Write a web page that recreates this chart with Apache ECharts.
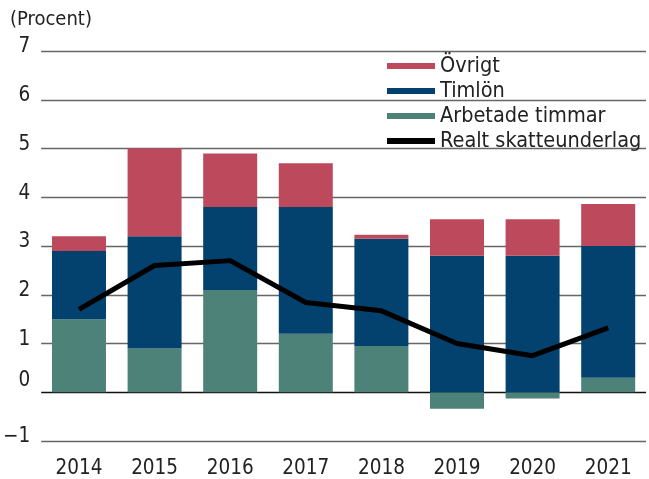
<!DOCTYPE html>
<html>
<head>
<meta charset="utf-8">
<script src="https://cdn.jsdelivr.net/npm/echarts@6/dist/echarts.min.js"></script>
<style>
  html, body { margin: 0; padding: 0; background: #fff; }
  #chart { width: 649px; height: 479px; }
</style>
</head>
<body>
<div id="chart"></div>
<script>
const years = ["2014", "2015", "2016", "2017", "2018", "2019", "2020", "2021"];
const arbetadeTimmar = [1.5, 0.9, 2.1, 1.2, 0.95, -0.34, -0.13, 0.3];
const timlon = [1.4, 2.3, 1.7, 2.6, 2.2, 2.8, 2.8, 2.7];
const ovrigt = [0.3, 1.8, 1.1, 0.9, 0.08, 0.75, 0.75, 0.86];
const realtSkatteunderlag = [1.7, 2.6, 2.7, 1.84, 1.67, 1.0, 0.75, 1.32];

const fontFam = "'DejaVu Sans Condensed', 'DejaVu Sans', sans-serif";

document.addEventListener("DOMContentLoaded", function () {
  const chart = echarts.init(document.getElementById("chart"));
  const option = {
    animation: false,
    textStyle: { fontFamily: fontFam },
    title: {
      text: "(Procent)",
      left: 5,
      top: 5,
      textStyle: { fontFamily: fontFam, fontSize: 20, fontWeight: "normal", color: "#222" }
    },
    legend: {
      orient: "vertical",
      left: 382,
      top: 50,
      itemWidth: 48,
      itemHeight: 6,
      itemGap: 3,
      icon: "rect",
      textStyle: { fontFamily: fontFam, fontSize: 21.5, color: "#222", lineHeight: 21 },
      data: [
        { name: "Övrigt", icon: "rect" },
        { name: "Timlön", icon: "rect" },
        { name: "Arbetade timmar", icon: "rect" },
        { name: "Realt skatteunderlag", icon: "rect", itemStyle: { color: "#000" } }
      ]
    },
    grid: { left: 40, right: 3, top: 51, bottom: 38 },
    xAxis: {
      type: "category",
      data: years,
      axisLine: { show: false },
      axisTick: { show: false },
      axisLabel: { fontFamily: fontFam, fontSize: 20.5, color: "#222", margin: 17 }
    },
    yAxis: {
      type: "value",
      min: -1,
      max: 7,
      interval: 1,
      axisLine: { show: false },
      axisTick: { show: false },
      axisLabel: {
        fontFamily: fontFam,
        fontSize: 20.5,
        color: "#222",
        margin: 11,
        padding: [0, 0, 8, 0],
        formatter: function (v) {
          if (v === 0) return "{z|0}";
          return String(v).replace("-", "\u2212");
        },
        rich: {
          z: { fontFamily: fontFam, fontSize: 20.5, color: "#222", padding: [0, 0, 16, 0] }
        }
      },
      splitLine: {
        lineStyle: {
          color: ["#666", "#111", "#666", "#666", "#666", "#666", "#666", "#666", "#666"],
          width: 1.3
        }
      }
    },
    series: [
      {
        name: "Arbetade timmar",
        type: "bar",
        stack: "total",
        barWidth: 54,
        itemStyle: { color: "#4D8279" },
        data: arbetadeTimmar
      },
      {
        name: "Timlön",
        type: "bar",
        stack: "total",
        barWidth: 54,
        itemStyle: { color: "#03416E" },
        data: timlon
      },
      {
        name: "Övrigt",
        type: "bar",
        stack: "total",
        barWidth: 54,
        itemStyle: { color: "#BC4A5C" },
        data: ovrigt
      },
      {
        name: "Realt skatteunderlag",
        type: "line",
        z: 5,
        symbol: "none",
        lineStyle: { color: "#000", width: 5 },
        itemStyle: { color: "#000" },
        data: realtSkatteunderlag
      }
    ]
  };
  chart.setOption(option);
  window.addEventListener("resize", function () {
    chart.resize();
  });
});
</script>
</body>
</html>
